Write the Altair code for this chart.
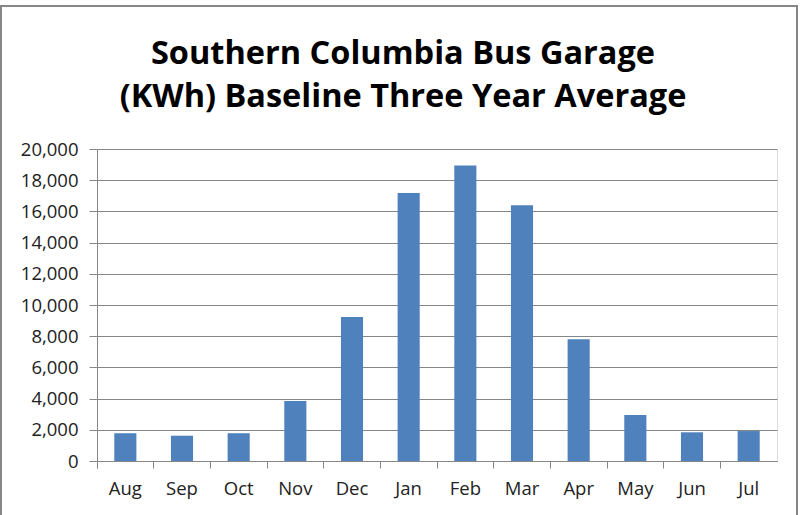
import altair as alt
import pandas as pd

months = ["Aug", "Sep", "Oct", "Nov", "Dec", "Jan", "Feb", "Mar", "Apr", "May", "Jun", "Jul"]
kwh = [1780, 1620, 1780, 3850, 9230, 17180, 18950, 16400, 7800, 2950, 1840, 1920]
y_ticks = [0, 2000, 4000, 6000, 8000, 10000, 12000, 14000, 16000, 18000, 20000]
title_lines = ["Southern Columbia Bus Garage", "(KWh) Baseline Three Year Average"]

df = pd.DataFrame({"month": months, "kwh": kwh})

W, H = 680, 312
GRAY = "#868686"
FONT = "Open Sans"

bars = alt.Chart(df).mark_bar(color="#4F81BD", width=alt.RelativeBandSize(0.39)).encode(
    x=alt.X(
        "month:N",
        sort=months,
        scale=alt.Scale(paddingInner=0, paddingOuter=0),
        axis=alt.Axis(
            title=None, bandPosition=0, tickExtra=True, labelAngle=0,
            labelFont=FONT, labelFontSize=18.5, labelColor="#222222",
            tickColor=GRAY, domainColor=GRAY, tickSize=7, labelPadding=11,
            grid=False,
        ),
    ),
    y=alt.Y(
        "kwh:Q",
        scale=alt.Scale(domain=[0, 20000], nice=False),
        axis=alt.Axis(
            title=None, values=y_ticks, format=",.0f", grid=True, gridColor=GRAY,
            gridOpacity=1, domainColor=GRAY, tickColor=GRAY, tickSize=8,
            labelFont=FONT, labelFontSize=18.5, labelColor="#222222", labelPadding=11,
        ),
    ),
)

frame = alt.Chart(df).mark_rect(fill=None, stroke=GRAY, strokeWidth=1.5).encode(
    x=alt.value(-96), x2=alt.value(700), y=alt.value(-143), y2=alt.value(420)
)

chart = alt.layer(frame, bars).properties(
    width=W,
    height=H,
    title=alt.TitleParams(
        title_lines, font=FONT, fontSize=32.5, fontWeight="bold", color="#000000",
        lineHeight=43, anchor="middle", frame="group", dx=-34, offset=-108,
    ),
    autosize=alt.AutoSizeParams(type="none"),
    padding={"left": 97, "top": 149, "right": 25, "bottom": 54},
).configure_view(stroke=None).configure(background="white")

chart.save("out.html", embed_options={"renderer": "svg", "actions": False})
